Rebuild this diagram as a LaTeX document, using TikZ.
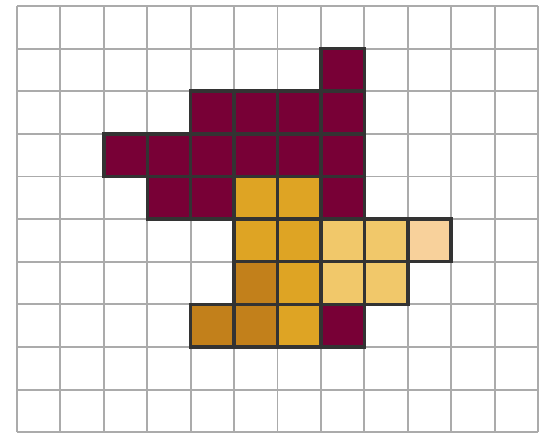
\documentclass[tikz,border=0pt]{standalone}
\usepackage{tikz}

\definecolor{maroon}{HTML}{780036}
\definecolor{gold}{HTML}{DEA424}
\definecolor{lightgold}{HTML}{F1C86A}
\definecolor{peach}{HTML}{F8D19B}
\definecolor{ochre}{HTML}{C2801B}
\definecolor{gridgray}{HTML}{ABABAB}
\definecolor{edgegray}{HTML}{333333}

\tikzset{
    gridline/.style={draw=gridgray, line width=1.1pt},
    cell/.style={draw=edgegray, line width=2pt, line join=miter}
}

\begin{document}
\begin{tikzpicture}[x=0.868cm, y=-0.852cm]
    \useasboundingbox (-0.392,-0.141) rectangle (12.092,10.023);

    % background grid
    \foreach \c in {0,...,12}
        \draw[gridline] (\c,0) -- (\c,10);
    \foreach \r in {0,...,10}
        \draw[gridline] (0,\r) -- (12,\r);

    % maroon cells
    \foreach \c/\r in {7/1, 4/2, 5/2, 6/2, 7/2, 2/3, 3/3, 4/3, 5/3, 6/3, 7/3, 3/4, 4/4, 7/4, 7/7}
        \draw[cell, fill=maroon] (\c,\r) rectangle ++(1,1);

    % gold cells
    \foreach \c/\r in {5/4, 6/4, 5/5, 6/5, 6/6, 6/7}
        \draw[cell, fill=gold] (\c,\r) rectangle ++(1,1);

    % darker cells
    \foreach \c/\r in {5/6, 4/7, 5/7}
        \draw[cell, fill=ochre] (\c,\r) rectangle ++(1,1);

    % light cells
    \foreach \c/\r in {7/5, 8/5, 7/6, 8/6}
        \draw[cell, fill=lightgold] (\c,\r) rectangle ++(1,1);
    \draw[cell, fill=peach] (9,5) rectangle ++(1,1);
\end{tikzpicture}
\end{document}
